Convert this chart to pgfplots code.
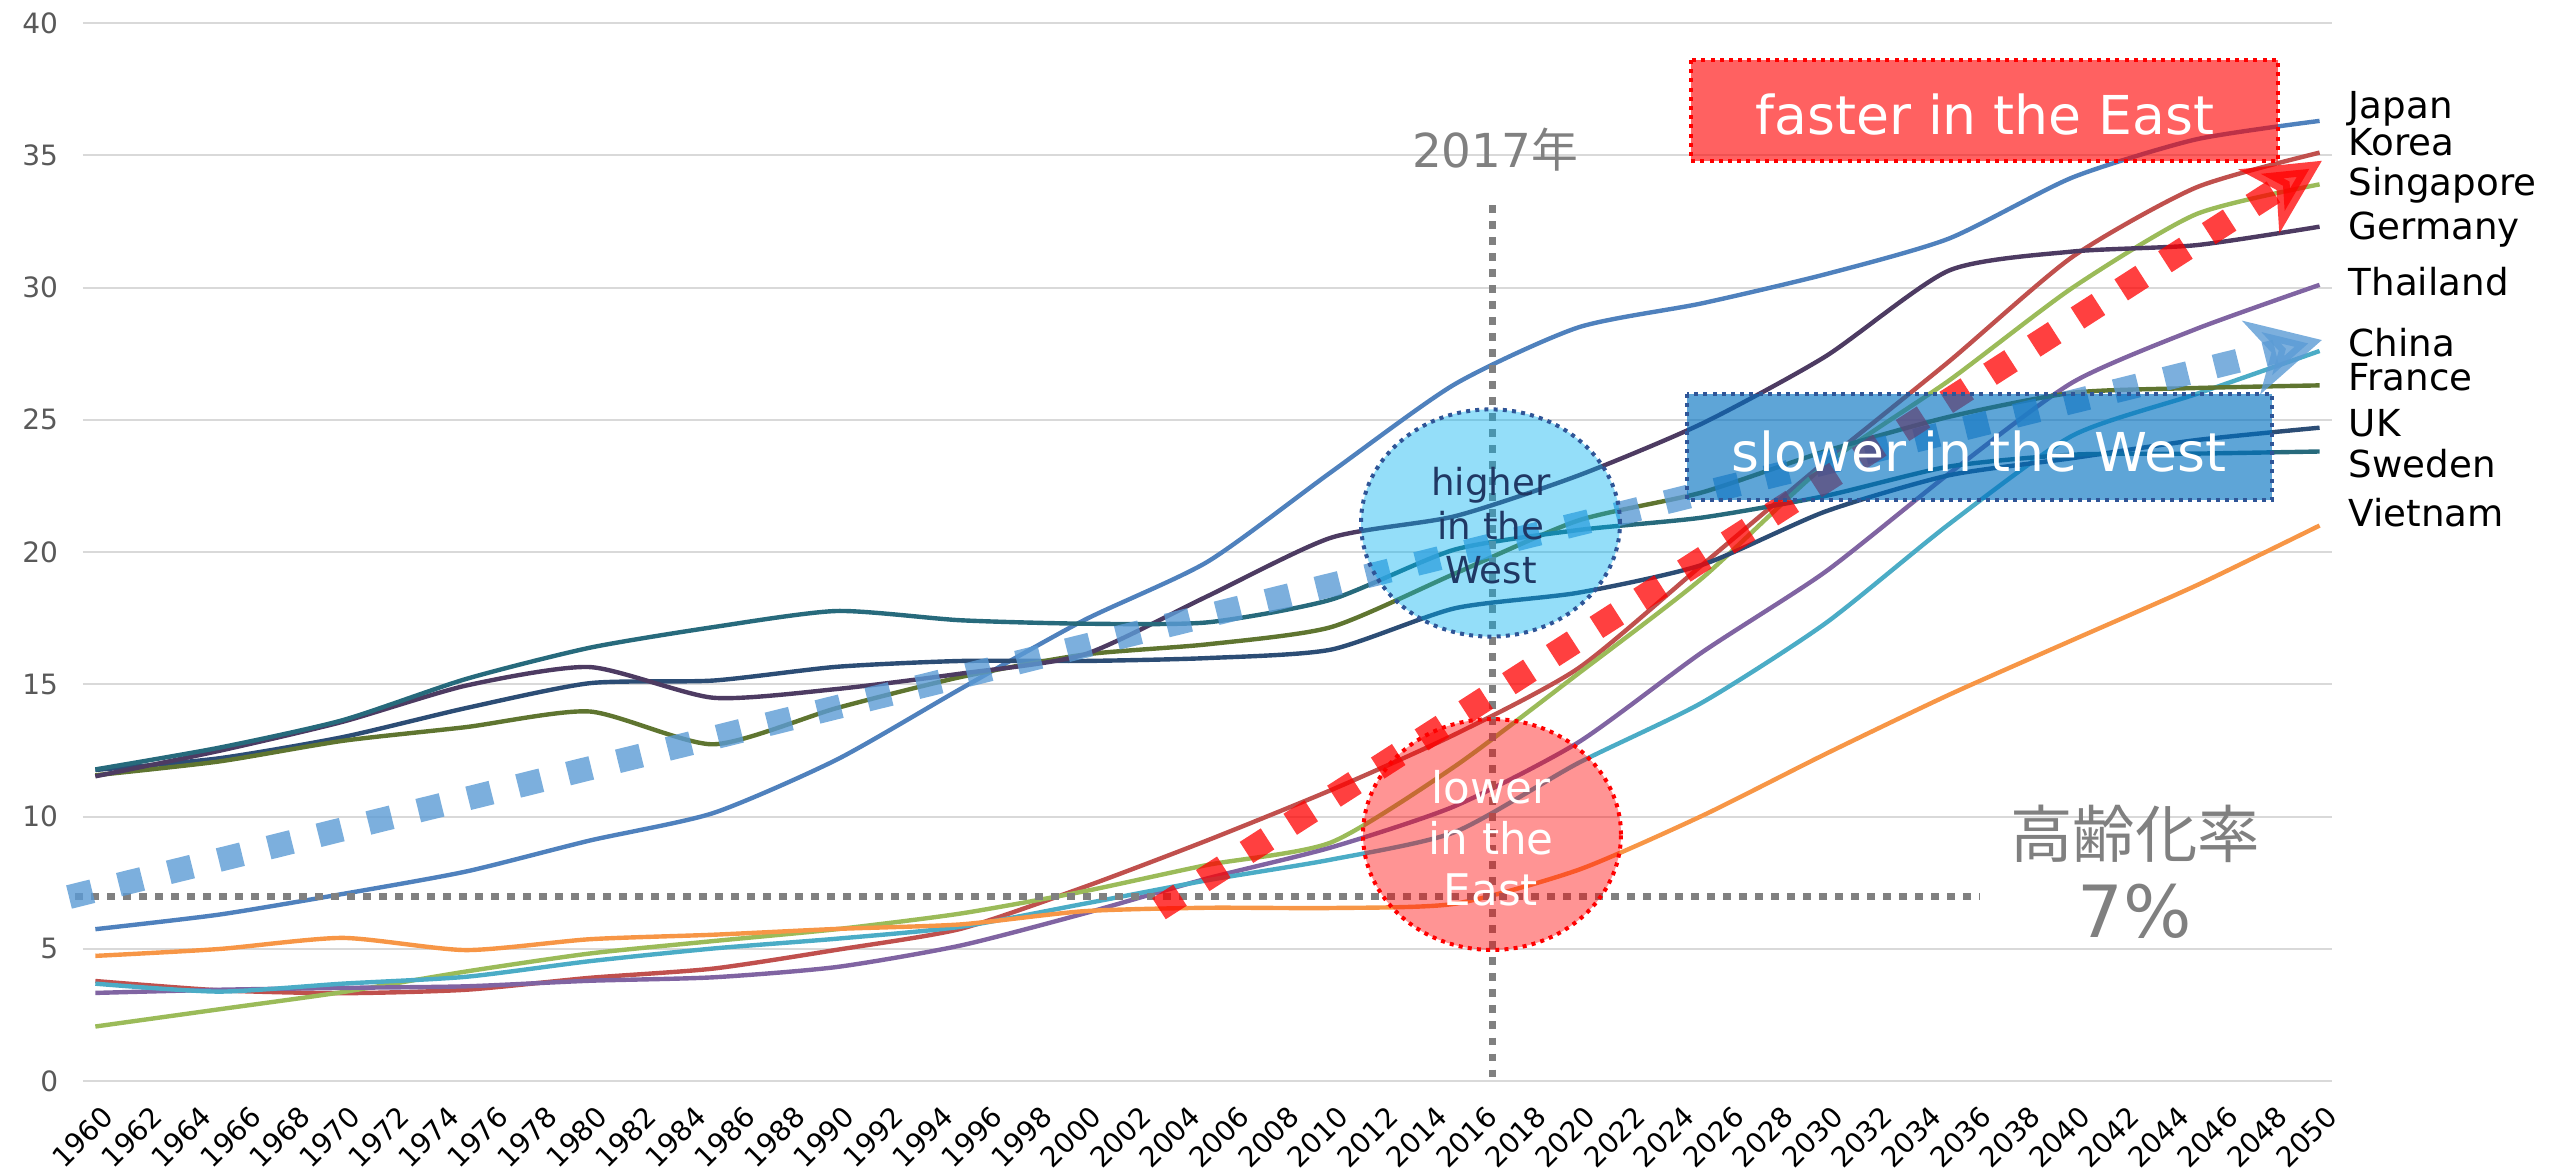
\documentclass[border=0pt]{standalone}
\usepackage{pgfplots}
\pgfplotsset{compat=1.18}
\usepackage{pgfplotstable}
\usepackage{fontspec}
\setmainfont{DejaVu Sans}
\newfontfamily\cjk{Noto Sans CJK JP}
\usetikzlibrary{arrows.meta}

\definecolor{cJapan}{HTML}{4F81BD}
\definecolor{cKorea}{HTML}{C0504D}
\definecolor{cSing}{HTML}{9BBB59}
\definecolor{cThai}{HTML}{8064A2}
\definecolor{cChina}{HTML}{4BACC6}
\definecolor{cViet}{HTML}{F79646}
\definecolor{cUK}{HTML}{2C4D75}
\definecolor{cFrance}{HTML}{5F7530}
\definecolor{cGermany}{HTML}{4D3B62}
\definecolor{cSweden}{HTML}{276A7C}
\definecolor{gridc}{HTML}{D9D9D9}
\definecolor{ytickgray}{HTML}{595959}
\definecolor{dotgray}{HTML}{808080}
\definecolor{westblue}{HTML}{5B9BD5}
\definecolor{darkblue}{HTML}{2F5597}
\definecolor{textblue}{HTML}{203864}
\definecolor{boxblue}{HTML}{0070C0}
\definecolor{ellblue}{HTML}{00B0F0}

\pgfplotstableread{
year Japan Korea Singapore Germany Thailand China France UK Sweden Vietnam
1960 5.74 3.78 2.06 11.52 3.33 3.68 11.56 11.76 11.78 4.73
1965 6.29 3.43 2.71 12.48 3.45 3.38 12.08 12.20 12.60 4.99
1970 7.07 3.32 3.36 13.58 3.52 3.68 12.86 13.00 13.64 5.41
1975 7.92 3.45 4.14 14.95 3.58 3.94 13.38 14.10 15.20 4.95
1980 9.09 3.90 4.82 15.65 3.79 4.53 13.97 15.04 16.38 5.36
1985 10.13 4.25 5.29 14.49 3.92 5.01 12.73 15.14 17.16 5.53
1990 12.15 4.96 5.74 14.82 4.31 5.38 14.10 15.66 17.77 5.75
1995 14.82 5.75 6.33 15.40 5.12 5.83 15.27 15.88 17.42 5.92
2000 17.42 7.33 7.17 16.12 6.33 6.70 16.12 15.88 17.29 6.42
2005 19.63 9.10 8.17 18.33 7.66 7.59 16.51 15.99 17.34 6.55
2010 23.02 11.00 9.02 20.54 8.83 8.37 17.16 16.31 18.20 6.54
2015 26.34 13.10 11.89 21.35 10.39 9.41 19.18 17.87 20.09 6.70
2020 28.49 15.60 15.40 22.89 12.80 12.02 21.19 18.46 20.83 7.98
2025 29.40 19.50 19.00 24.85 16.20 14.30 22.25 19.51 21.30 10.02
2030 30.50 23.42 23.29 27.39 19.25 17.30 23.81 21.53 22.12 12.36
2035 31.85 27.20 26.48 30.64 22.96 21.05 25.11 22.90 23.23 14.60
2040 34.16 31.16 29.99 31.36 26.41 24.40 26.02 23.55 23.68 16.67
2045 35.60 33.78 32.77 31.60 28.43 25.97 26.20 24.23 23.72 18.73
2050 36.30 35.10 33.90 32.30 30.10 27.60 26.30 24.70 23.80 21.00
}\datatable

\begin{document}
\begin{tikzpicture}
\path[use as bounding box] (0,0) rectangle (638pt,292.5pt);
\begin{axis}[
  at={(20.75pt,22.25pt)}, anchor=south west, scale only axis,
  width=562.25pt, height=264.5pt,
  xmin=1959.5, xmax=2050.5, ymin=0, ymax=40,
  xtick=\empty, ytick={0,5,...,40},
  ymajorgrids, major grid style={gridc, line width=0.5pt},
  axis line style={draw=none}, major tick length=0pt,
  tick label style={font=\fontsize{7}{8}\selectfont},
  yticklabel style={text=ytickgray, anchor=east, xshift=-2.7pt},
  /pgf/number format/1000 sep={},
  /pgf/number format/assume math mode=true,
  clip=false,
  every axis plot/.append style={line width=1.1pt, smooth, tension=0.4, no marks, line join=round},
]
\addplot[cJapan] table[x=year,y=Japan]{\datatable};
\addplot[cKorea] table[x=year,y=Korea]{\datatable};
\addplot[cSing] table[x=year,y=Singapore]{\datatable};
\addplot[cThai] table[x=year,y=Thailand]{\datatable};
\addplot[cChina] table[x=year,y=China]{\datatable};
\addplot[cViet] table[x=year,y=Vietnam]{\datatable};
\addplot[cUK] table[x=year,y=UK]{\datatable};
\addplot[cFrance] table[x=year,y=France]{\datatable};
\addplot[cGermany] table[x=year,y=Germany]{\datatable};
\addplot[cSweden] table[x=year,y=Sweden]{\datatable};
\end{axis}

\begin{scope}[x=0.25pt,y=0.25pt]
% x tick labels (rotated)
\foreach \yr in {1960,1962,...,2050} {
  \node[rotate=45, anchor=north east, inner sep=0pt, font=\fontsize{7}{8}\selectfont]
    at ({87.6+24.714*(\yr-1959.5)},67) {\yr};
}
% guide lines
\draw[dotgray, line width=1.75pt, dash pattern=on 1.9pt off 2.1pt] (75,273.2) -- (1980,273.2);
\draw[dotgray, line width=1.75pt, dash pattern=on 1.9pt off 2.1pt] (1492,964.5) -- (1492,93.4);
% trend arrows
\draw[westblue, opacity=0.8, line width=6pt, dash pattern=on 6pt off 6.85pt,
  -{Stealth[length=18pt,width=18.5pt,inset=5pt]}] (69,273) -- (2322,830);
\draw[red, opacity=0.75, line width=6.25pt, dash pattern=on 6.25pt off 6.75pt,
  -{Stealth[length=18.5pt,width=18.5pt,inset=5pt]}] (1159,261.3) -- (2322,1009.3);
% ellipses
\path[fill=ellblue, fill opacity=0.42, draw=darkblue, line width=1pt, dash pattern=on 1pt off 1.3pt]
  (1490.5,647) ellipse [x radius=129.5, y radius=113.6];
\path[fill=red, fill opacity=0.42, draw=red, line width=1pt, dash pattern=on 1pt off 1.3pt]
  (1492,335.5) ellipse [x radius=129, y radius=115.4];
% boxes
\path[fill=red, fill opacity=0.62, draw=red, line width=1pt, dash pattern=on 1pt off 1.3pt]
  (1691,1110) rectangle (2278,1009);
\path[fill=boxblue, fill opacity=0.63, draw=darkblue, line width=1pt, dash pattern=on 1pt off 1.3pt]
  (1687,776) rectangle (2272,670);
% texts
\node[anchor=base, text=white, inner sep=0, font=\fontsize{13.4}{16}\selectfont] at (1985,1035.3) {faster in the East};
\node[anchor=base, text=white, inner sep=0, font=\fontsize{13.4}{16}\selectfont] at (1979,699) {slower in the West};
\node[anchor=base, text=textblue, inner sep=0, font=\fontsize{9.3}{11}\selectfont] at (1491,674.8) {higher};
\node[anchor=base, text=textblue, inner sep=0, font=\fontsize{9.3}{11}\selectfont] at (1491,630.7) {in the};
\node[anchor=base, text=textblue, inner sep=0, font=\fontsize{9.3}{11}\selectfont] at (1491,586) {West};
\node[anchor=base, text=white, inner sep=0, font=\fontsize{10.9}{13}\selectfont] at (1491,366.2) {lower};
\node[anchor=base, text=white, inner sep=0, font=\fontsize{10.9}{13}\selectfont] at (1491,315.6) {in the};
\node[anchor=base, text=white, inner sep=0, font=\fontsize{10.9}{13}\selectfont] at (1491,264.6) {East};
\node[anchor=base, text=dotgray, inner sep=0, font=\fontsize{11.7}{14}\selectfont] at (1495,1002.8) {2017{\cjk 年}};
\node[anchor=center, text=dotgray, inner sep=0, font=\fontsize{15.6}{18}\selectfont] at (2135,336) {\cjk 高齢化率};
\node[anchor=base, text=dotgray, inner sep=0, font=\fontsize{18}{21}\selectfont] at (2135,233) {7\%};
% country labels
\begin{scope}[every node/.style={anchor=base west, inner sep=0, font=\fontsize{9.3}{11}\selectfont}]
\node at (2348,1051.5) {Japan};
\node at (2348,1014.9) {Korea};
\node at (2348,974.7) {Singapore};
\node at (2348,930.7) {Germany};
\node at (2348,874.8) {Thailand};
\node at (2348,814) {China};
\node at (2348,779.2) {France};
\node at (2348,733.6) {UK};
\node at (2348,692.3) {Sweden};
\node at (2348,643.3) {Vietnam};
\end{scope}
\end{scope}
\end{tikzpicture}
\end{document}
